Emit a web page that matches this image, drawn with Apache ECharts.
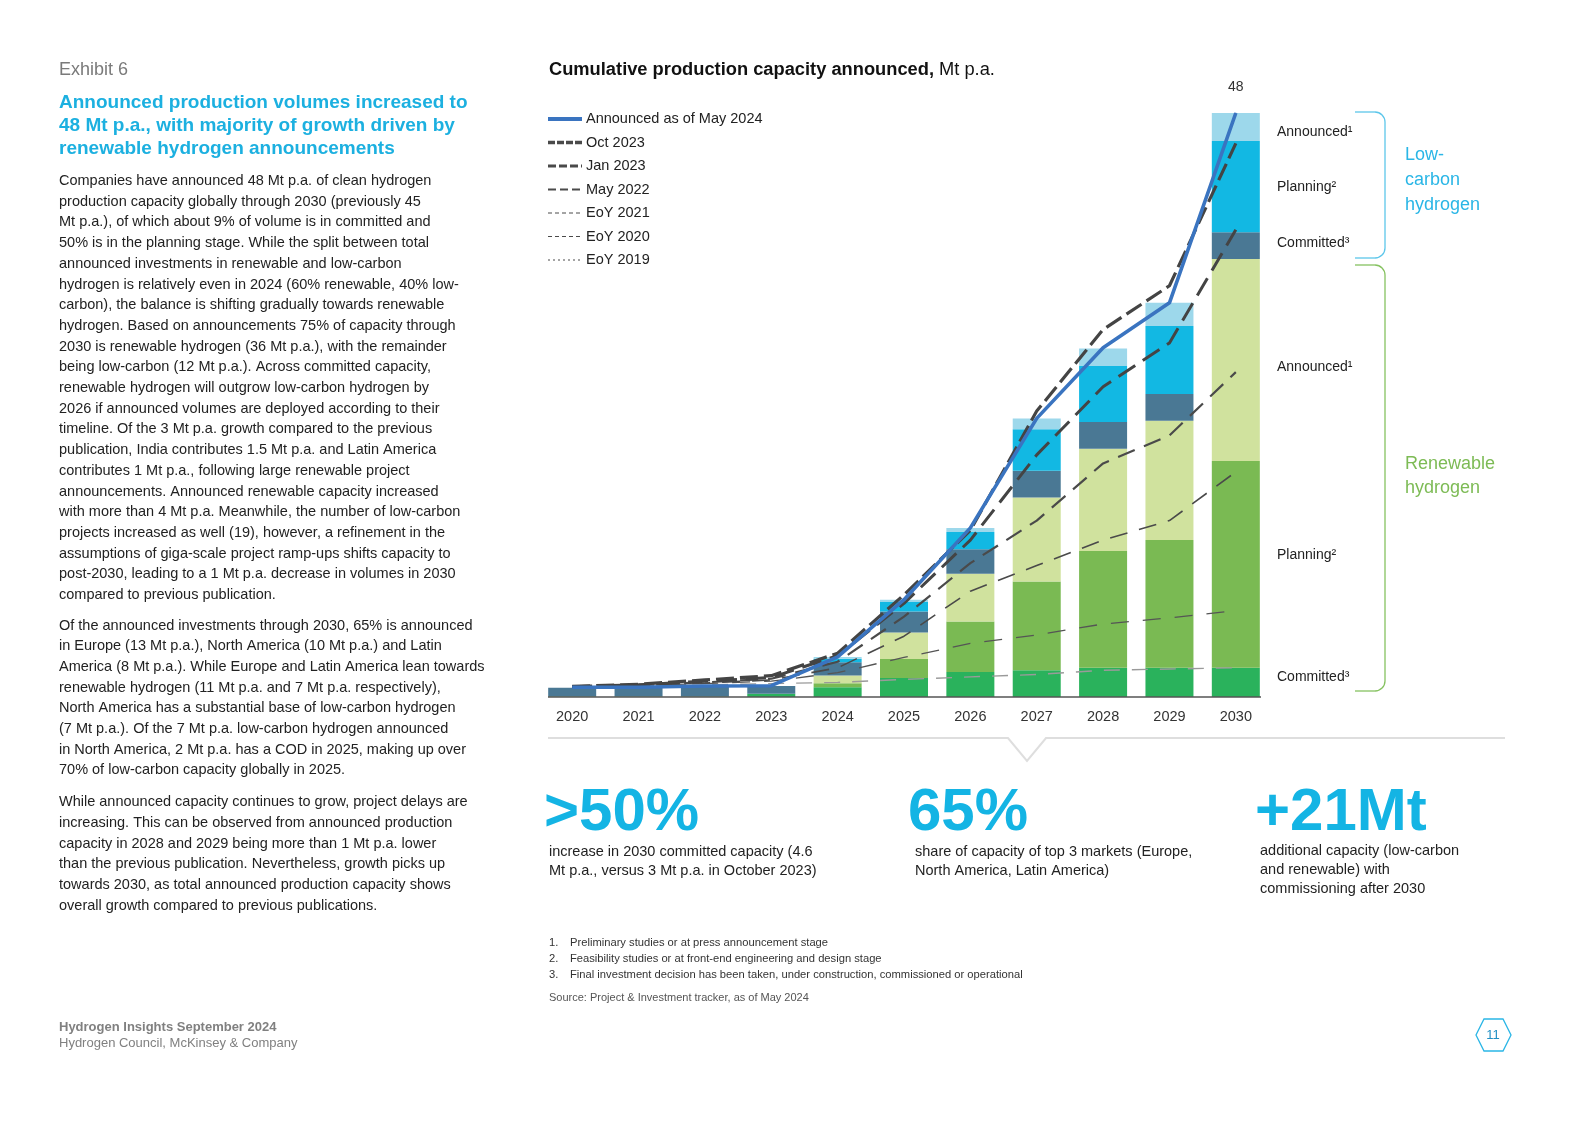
<!DOCTYPE html>
<html><head><meta charset="utf-8">
<script src="https://cdn.jsdelivr.net/npm/echarts@6/dist/echarts.min.js"></script>
<style>html,body{margin:0;padding:0;background:#fff}#c{width:1586px;height:1121px}</style>
</head><body><div id="c"></div><script>
// ---- data ----
const years = ['2020','2021','2022','2023','2024','2025','2026','2027','2028','2029','2030'];
const renewableCommitted  = [0.04,0.05,0.05,0.27,0.80,1.56,2.05,2.2,2.4,2.4,2.4];
const renewablePlanning   = [0,0,0,0,0.33,1.56,4.15,7.3,9.6,10.5,17.0];
const renewableAnnounced  = [0,0,0,0,0.63,2.19,3.93,6.9,8.4,9.8,16.6];
const lowCarbonCommitted  = [0.72,0.74,0.85,0.63,1.09,1.72,2.02,2.2,2.2,2.2,2.2];
const lowCarbonPlanning   = [0,0,0,0,0.30,0.77,1.42,3.4,4.6,5.6,7.5];
const lowCarbonAnnounced  = [0,0,0,0,0.14,0.19,0.33,0.9,1.45,1.9,2.3];
const announcedMay2024 = [0.8,0.8,0.9,0.93,3.3,8.0,13.9,22.9,28.7,32.4,48];
const oct2023 = [0.87,1.05,1.4,1.75,3.6,8.4,13.7,23.5,30.2,33.8,45.5];
const jan2023 = [0.85,1.0,1.3,1.6,3.4,7.7,12.9,19.9,25.5,29.1,38.4];
const may2022 = [0.85,1.0,1.2,1.5,2.9,6.6,11.0,14.5,19.2,21.5,26.7];
const eoy2021 = [0.85,0.95,1.15,1.4,2.4,5.0,8.7,10.8,12.9,14.5,18.5];
const eoy2020 = [0.85,0.95,1.1,1.3,2.0,3.25,4.4,5.1,6.0,6.5,7.1];
const eoy2019 = [0.85,0.9,1.0,1.1,1.2,1.45,1.65,1.85,2.2,2.3,2.4];
const legendNames = ['Announced as of May 2024','Oct 2023','Jan 2023','May 2022','EoY 2021','EoY 2020','EoY 2019'];
const totalLabel = '48';

const FONT = '"Liberation Sans", Arial, sans-serif';
const chart = echarts.init(document.getElementById('c'), null, {renderer:'canvas'});

function bar(name, data, color){
  return {name, type:'bar', stack:'cap', data, barWidth:48, z:2,
    itemStyle:{color}, emphasis:{disabled:true}, silent:true};
}
function dline(name, data, width, dash, color){
  return {name, type:'line', data, symbol:'none', z:5, silent:true,
    lineStyle:{width, type:dash, color}, itemStyle:{color}};
}
const lastIdx = announcedMay2024.length-1;

const body1 = [
'Companies have announced 48 Mt p.a. of clean hydrogen',
'production capacity globally through 2030 (previously 45',
'Mt p.a.), of which about 9% of volume is in committed and',
'50% is in the planning stage. While the split between total',
'announced investments in renewable and low-carbon',
'hydrogen is relatively even in 2024 (60% renewable, 40% low-',
'carbon), the balance is shifting gradually towards renewable',
'hydrogen. Based on announcements 75% of capacity through',
'2030 is renewable hydrogen (36 Mt p.a.), with the remainder',
'being low-carbon (12 Mt p.a.). Across committed capacity,',
'renewable hydrogen will outgrow low-carbon hydrogen by',
'2026 if announced volumes are deployed according to their',
'timeline. Of the 3 Mt p.a. growth compared to the previous',
'publication, India contributes 1.5 Mt p.a. and Latin America',
'contributes 1 Mt p.a., following large renewable project',
'announcements. Announced renewable capacity increased',
'with more than 4 Mt p.a. Meanwhile, the number of low-carbon',
'projects increased as well (19), however, a refinement in the',
'assumptions of giga-scale project ramp-ups shifts capacity to',
'post-2030, leading to a 1 Mt p.a. decrease in volumes in 2030',
'compared to previous publication.'].join('\n');
const body2 = [
'Of the announced investments through 2030, 65% is announced',
'in Europe (13 Mt p.a.), North America (10 Mt p.a.) and Latin',
'America (8 Mt p.a.). While Europe and Latin America lean towards',
'renewable hydrogen (11 Mt p.a. and 7 Mt p.a. respectively),',
'North America has a substantial base of low-carbon hydrogen',
'(7 Mt p.a.). Of the 7 Mt p.a. low-carbon hydrogen announced',
'in North America, 2 Mt p.a. has a COD in 2025, making up over',
'70% of low-carbon capacity globally in 2025.'].join('\n');
const body3 = [
'While announced capacity continues to grow, project delays are',
'increasing. This can be observed from announced production',
'capacity in 2028 and 2029 being more than 1 Mt p.a. lower',
'than the previous publication. Nevertheless, growth picks up',
'towards 2030, as total announced production capacity shows',
'overall growth compared to previous publications.'].join('\n');

function txt(x,y,text,opt){
  return {type:'text', x, y, z:10, silent:true, style:Object.assign({text, fontFamily:FONT, fontSize:14.5, fill:'#222',
    verticalAlign:'middle', textVerticalAlign:'middle'}, opt||{})};
}
function brace(x0,xr,y0,y1,color){
  const r=10, ls={stroke:color, lineWidth:1.3, fill:null};
  return [
    {type:'line', shape:{x1:x0,y1:y0,x2:xr-r,y2:y0}, style:ls, silent:true},
    {type:'arc', shape:{cx:xr-r, cy:y0+r, r, startAngle:-Math.PI/2, endAngle:0}, style:ls, silent:true},
    {type:'line', shape:{x1:xr,y1:y0+r,x2:xr,y2:y1-r}, style:ls, silent:true},
    {type:'arc', shape:{cx:xr-r, cy:y1-r, r, startAngle:0, endAngle:Math.PI/2}, style:ls, silent:true},
    {type:'line', shape:{x1:xr-r,y1:y1,x2:x0,y2:y1}, style:ls, silent:true}
  ];
}
// legend (drawn as graphic: line sample + text)
const legendStyles = [
  {w:4, dash:null, c:'#3a74c0'},
  {w:3.5, dash:[7,2], c:'#4a4a4a'},
  {w:3, dash:[8,3], c:'#4a4a4a'},
  {w:2, dash:[8,4], c:'#4a4a4a'},
  {w:1, dash:[4,3], c:'#4a4a4a'},
  {w:1, dash:[4,3], c:'#4a4a4a'},
  {w:1, dash:[2,3], c:'#4a4a4a'}
];
const legendY = [119,142.5,166,189.5,213,236.5,260];
const legendEls = [];
legendNames.forEach((n,i)=>{
  const s = legendStyles[i];
  legendEls.push({type:'line', shape:{x1:548,y1:legendY[i],x2:582,y2:legendY[i]}, silent:true, z:10,
    style:{stroke:s.c, lineWidth:s.w, lineDash:s.dash}});
  legendEls.push(txt(586,legendY[i],n,{fontSize:14.5}));
});

const CYAN='#14b4e4';
const graphic = [
  txt(59,70,'Exhibit 6',{fontSize:18, fill:'#7a7a7a'}),
  txt(59,126,'Announced production volumes increased to\n48 Mt p.a., with majority of growth driven by\nrenewable hydrogen announcements',
      {fontSize:19, fontWeight:'bold', fill:'#1cb0e0', lineHeight:23}),
  txt(59,388,body1,{lineHeight:20.7}),
  txt(59,698,body2,{lineHeight:20.7}),
  txt(59,854,body3,{lineHeight:20.7}),
  {type:'text', x:549, y:70, z:10, silent:true, style:{text:'{b|Cumulative production capacity announced,}{r| Mt p.a.}',
    verticalAlign:'middle', textVerticalAlign:'middle',
    rich:{b:{fontFamily:FONT,fontSize:18.3,fontWeight:'bold',fill:'#111',color:'#111'}, r:{fontFamily:FONT,fontSize:18.3,fill:'#111',color:'#111'}}}},
  ...legendEls,
  // axis baseline
  {type:'line', shape:{x1:548,y1:697,x2:1261,y2:697}, style:{stroke:'#555', lineWidth:1.5}, z:6, silent:true},
  // right labels
  txt(1277,132,'Announced¹',{fontSize:14}),
  txt(1277,187,'Planning²',{fontSize:14}),
  txt(1277,243,'Committed³',{fontSize:14}),
  txt(1277,367,'Announced¹',{fontSize:14}),
  txt(1277,555,'Planning²',{fontSize:14}),
  txt(1277,677,'Committed³',{fontSize:14}),
  ...brace(1355,1385,112,258,'#5cc6ea'),
  ...brace(1355,1385,265,691,'#86c260'),
  txt(1405,180,'Low-\ncarbon\nhydrogen',{fontSize:18, fill:'#2ab6e6', lineHeight:25}),
  txt(1405,476,'Renewable\nhydrogen',{fontSize:18, fill:'#7dbb55', lineHeight:24}),
  // separator with notch
  {type:'polyline', shape:{points:[[548,738],[1008,738],[1027,761],[1046,738],[1505,738]]},
    style:{stroke:'#dedede', lineWidth:2, fill:null}, silent:true},
  txt(544,813,'>50%',{fontSize:60, fontWeight:'bold', fill:CYAN}),
  txt(908,813,'65%',{fontSize:60, fontWeight:'bold', fill:CYAN}),
  txt(1255,813,'+21Mt',{fontSize:60, fontWeight:'bold', fill:CYAN}),
  txt(549,861,'increase in 2030 committed capacity (4.6\nMt p.a., versus 3 Mt p.a. in October 2023)',{lineHeight:19}),
  txt(915,861,'share of capacity of top 3 markets (Europe,\nNorth America, Latin America)',{lineHeight:19}),
  txt(1260,870,'additional capacity (low-carbon\nand renewable) with\ncommissioning after 2030',{lineHeight:19}),
  // footnotes
  txt(549,959,'1.\n2.\n3.',{fontSize:11.2, lineHeight:16, fill:'#333'}),
  txt(570,959,'Preliminary studies or at press announcement stage\nFeasibility studies or at front-end engineering and design stage\nFinal investment decision has been taken, under construction, commissioned or operational',{fontSize:11.2, lineHeight:16, fill:'#333'}),
  txt(549,998,'Source: Project & Investment tracker, as of May 2024',{fontSize:11, fill:'#555'}),
  // footer
  txt(59,1027,'Hydrogen Insights September 2024',{fontSize:13, fontWeight:'bold', fill:'#808080'}),
  txt(59,1043,'Hydrogen Council, McKinsey & Company',{fontSize:13, fill:'#808080'}),
  {type:'polygon', shape:{points:[[1476,1035],[1484,1019],[1503,1019],[1511,1035],[1503,1051],[1484,1051]]},
    style:{stroke:'#2ab6e6', lineWidth:1.3, fill:null}, silent:true},
  txt(1493,1035,'11',{fontSize:13, fill:'#1f8fc4', textAlign:'center', align:'center'})
];

const option = {
  backgroundColor:'#fff',
  animation:false,
  textStyle:{fontFamily:FONT},
  grid:{left:539, right:317, top:113, bottom:424, containLabel:false},
  xAxis:{type:'category', data:years, axisLine:{show:false}, axisTick:{show:false},
    axisLabel:{color:'#333', fontSize:14.5, margin:12, fontFamily:FONT}},
  yAxis:{type:'value', min:0, max:48, show:false, splitLine:{show:false}},
  series:[
    bar('Renewable committed', renewableCommitted, '#2ab25c'),
    bar('Renewable planning', renewablePlanning, '#7aba53'),
    bar('Renewable announced', renewableAnnounced, '#d0e29e'),
    bar('Low-carbon committed', lowCarbonCommitted, '#4a7894'),
    bar('Low-carbon planning', lowCarbonPlanning, '#12b8e3'),
    bar('Low-carbon announced', lowCarbonAnnounced, '#9dd8eb'),
    dline(legendNames[6], eoy2019, 1.4, [16,12], '#9a9a9a'),
    dline(legendNames[5], eoy2020, 1.3, [18,14], '#555'),
    dline(legendNames[4], eoy2021, 1.6, [18,12], '#4a4a4a'),
    dline(legendNames[3], may2022, 2.2, [18,10], '#4a4a4a'),
    dline(legendNames[2], jan2023, 3, [20,9], '#444'),
    dline(legendNames[1], oct2023, 3.2, [18,6], '#444'),
    {name:legendNames[0], type:'line', data:announcedMay2024, symbol:'none', z:6, silent:true,
      lineStyle:{width:3.6, color:'#3a74c0'}, itemStyle:{color:'#3a74c0'},
      markPoint:{symbol:'circle', symbolSize:1, silent:true, itemStyle:{color:'#3a74c0'},
        data:[{coord:[years[lastIdx], announcedMay2024[lastIdx]], value:totalLabel}],
        label:{show:true, position:'top', distance:18, formatter:totalLabel, color:'#333', fontSize:14, fontFamily:FONT}}}
  ],
  graphic
};
chart.setOption(option);
</script></body></html>
